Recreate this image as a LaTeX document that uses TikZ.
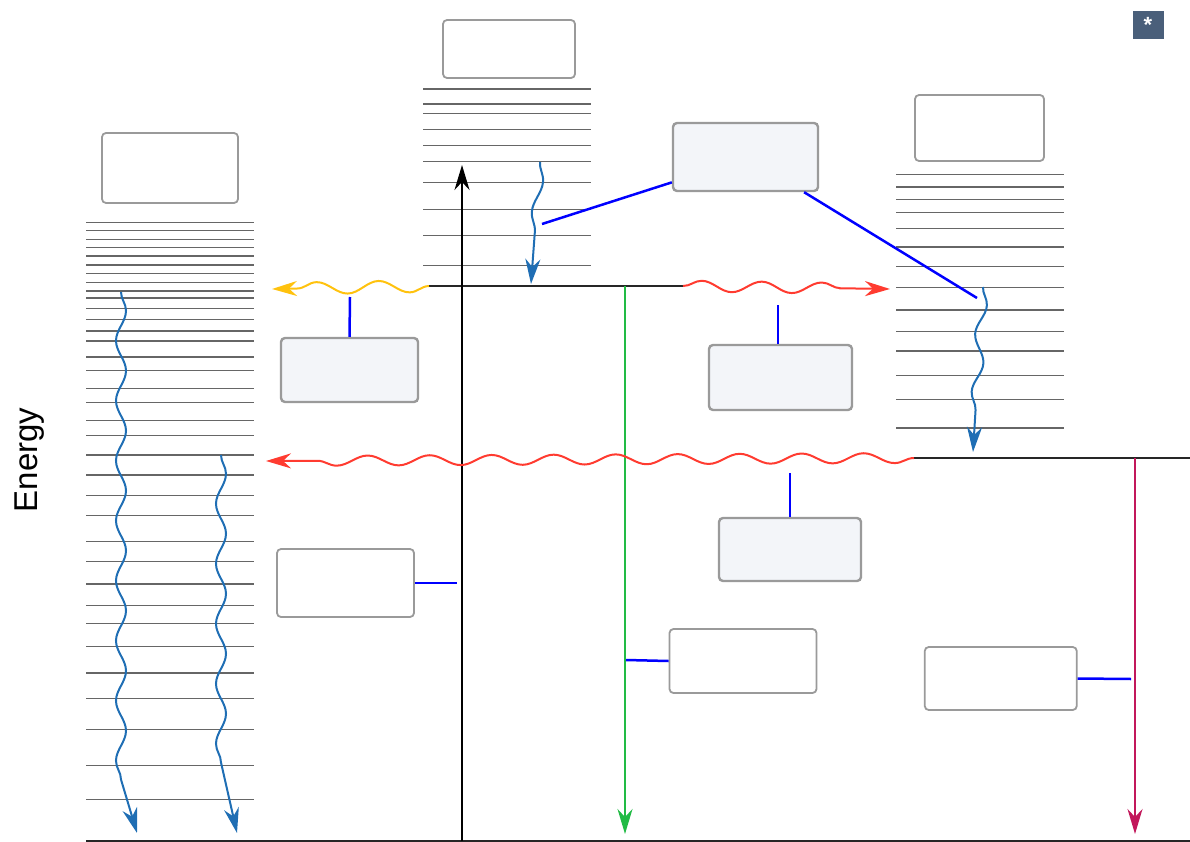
\documentclass[tikz,border=0pt]{standalone}
\usepackage{fontspec}
\setmainfont{Liberation Sans}
\usetikzlibrary{arrows.meta,decorations.pathmorphing}

\definecolor{vibblue}{HTML}{1F6EB4}
\definecolor{leadblue}{HTML}{0000FF}
\definecolor{icyellow}{HTML}{FFC20E}
\definecolor{iscred}{HTML}{FF3B30}
\definecolor{fluogreen}{HTML}{22BB45}
\definecolor{phosred}{HTML}{C2185B}
\definecolor{boxline}{HTML}{9A9A9A}
\definecolor{boxlight}{HTML}{F3F5F9}
\definecolor{starbg}{HTML}{4A5F7A}

\tikzset{
  vlevel/.style={line width=1.4pt, draw=black!60},
  elevel/.style={line width=2.4pt, draw=black!85},
  lblbox/.style={draw=boxline, line width=1.8pt, rounded corners=4pt, fill=white, inner sep=0pt},
  lblboxlight/.style={lblbox, fill=boxlight, line width=2.4pt},
  leader/.style={draw=leadblue, line width=2.5pt},
  fishhead/.style={-{Stealth[length=25pt, width=15pt, inset=8pt]}},
  wave/.style={decorate, decoration={snake, amplitude=5pt, segment length=60pt, post length=#1}},
  wave/.default=20pt
}

\begin{document}
\begin{tikzpicture}[x=1pt, y=-1pt]
  \useasboundingbox (0,0) rectangle (1190,842);

  \node[rotate=90, anchor=base, font=\fontsize{33}{40}\selectfont] (energy) at (37,460) {Energy};
  \node[fill=starbg, text=white, minimum width=31pt, minimum height=28pt, inner sep=0pt,
        font=\bfseries\fontsize{22}{22}\selectfont] (star) at (1148,25) {*};

  % vibrational levels
  \foreach \y in {222.7,230.7,239.3,247.3,256,265,273.3,282.3,291,298,308.7,319.3,331,341,357,
                  370.7,388.7,402.7,420.3,435.3,455,475,495.7,515.7,541.7,561.7,584,605.3,623.3,
                  646.7,673,698.3,729.7,765.7,799.3}
    \draw[vlevel] (86,\y) -- (254,\y);
  \foreach \y in {89,104,113.7,129.7,145.3,161.3,182.7,209.3,235.3,265.7}
    \draw[vlevel] (423,\y) -- (591,\y);
  \foreach \y in {174.7,187,199.3,212.3,228.7,247,266.7,287.3,310,331.3,351,375.3,399.3,428}
    \draw[vlevel] (896,\y) -- (1064,\y);

  \coordinate (s0L) at (86,841);
  \coordinate (s0R) at (1190,841);
  \coordinate (s1L) at (429,286);
  \coordinate (s1R) at (683,286);
  \coordinate (t1L) at (914,458);
  \coordinate (t1R) at (1190,458);
  \draw[elevel, line width=2pt] (s0L) -- (s0R);
  \draw[elevel] (s1L) -- (s1R);
  \draw[elevel] (t1L) -- (t1R);

  \node[lblbox, minimum width=136pt, minimum height=70pt] (boxS0) at (170,168) {};
  \node[lblbox, minimum width=132pt, minimum height=58pt] (boxS1) at (509,49) {};
  \node[lblbox, minimum width=129pt, minimum height=66pt] (boxT1) at (979.5,128) {};
  \node[lblboxlight, minimum width=145pt, minimum height=68pt] (boxVR) at (745.5,157) {};
  \node[lblboxlight, minimum width=137pt, minimum height=64pt] (boxIC) at (349.5,370) {};
  \node[lblboxlight, minimum width=143pt, minimum height=65pt] (boxISC) at (780.5,377.5) {};
  \node[lblboxlight, minimum width=142pt, minimum height=63pt] (boxRISC) at (790,549.5) {};
  \node[lblbox, minimum width=137pt, minimum height=68pt] (boxAbs) at (345.5,583) {};
  \node[lblbox, minimum width=147pt, minimum height=64pt] (boxFluo) at (743,661) {};
  \node[lblbox, minimum width=152pt, minimum height=63pt] (boxPhos) at (1000.75,678.5) {};

  % radiative transitions
  \coordinate (absBot) at (462,841);
  \coordinate (absTop) at (462,165);
  \coordinate (fluoEnd) at (625,834);
  \coordinate (phosEnd) at (1135,834);
  \draw[fishhead, line width=2pt, black] (absBot) -- (absTop);
  \draw[fishhead, line width=2pt, fluogreen] (s1R -| fluoEnd) -- (fluoEnd);
  \draw[fishhead, line width=2pt, phosred] (t1R -| phosEnd) -- (phosEnd);

  % non-radiative transitions
  \coordinate (vrS1a) at (540,162);
  \coordinate (vrS1b) at (531,284);
  \coordinate (vrT1a) at (983,287);
  \coordinate (vrT1b) at (973,452);
  \coordinate (vrS0a) at (121,292);
  \coordinate (vrS0b) at (137,833);
  \coordinate (vrS0c) at (221,455);
  \coordinate (vrS0d) at (237,833);
  \coordinate (icEnd) at (272,289);
  \coordinate (iscEnd) at (890,289);
  \coordinate (riscEnd) at (266,461);
  \draw[fishhead, vibblue, line width=2pt, wave=30pt, decoration={amplitude=4.5pt, segment length=62pt}] (vrS1a) -- (vrS1b);
  \draw[fishhead, vibblue, line width=2pt, wave=38pt, decoration={segment length=58pt}] (vrT1a) -- (vrT1b);
  \draw[fishhead, vibblue, line width=2pt, wave=45pt] (vrS0a) -- ++(0,495) to[out=-90, in=100] (vrS0b);
  \draw[fishhead, vibblue, line width=2pt, wave=45pt] (vrS0c) -- ++(0,332) to[out=-90, in=100] (vrS0d);
  \draw[fishhead, icyellow, line width=2pt, wave=25pt, decoration={amplitude=6pt, segment length=62pt}] (s1L) -- (icEnd);
  \draw[fishhead, iscred, line width=2pt, wave=32pt, decoration={amplitude=5.5pt}] (s1R) -- (iscEnd);
  \draw[fishhead, iscred, line width=2pt, wave=28pt, decoration={segment length=62pt}] (t1L) -- (riscEnd);

  % leaders
  \coordinate (vrS1pt) at (542,224);
  \coordinate (vrT1pt) at (977,298);
  \coordinate (icPt) at (350,297);
  \coordinate (iscPt) at (778,305);
  \coordinate (riscPt) at (790,473);
  \coordinate (absPt) at (457,583);
  \coordinate (fluoPt) at (626,660);
  \coordinate (phosPt) at (1131,679);
  \draw[leader] (boxVR.199) -- (vrS1pt);
  \draw[leader] (boxVR.329) -- (vrT1pt);
  \draw[leader] (boxIC.north) -- (icPt);
  \draw[leader] (boxISC.north -| iscPt) -- (iscPt);
  \draw[leader] (boxRISC.north) -- (riscPt);
  \draw[leader] (boxAbs.east) -- (absPt);
  \draw[leader] (boxFluo.west) -- (fluoPt);
  \draw[leader] (boxPhos.east) -- (phosPt);
\end{tikzpicture}
\end{document}
